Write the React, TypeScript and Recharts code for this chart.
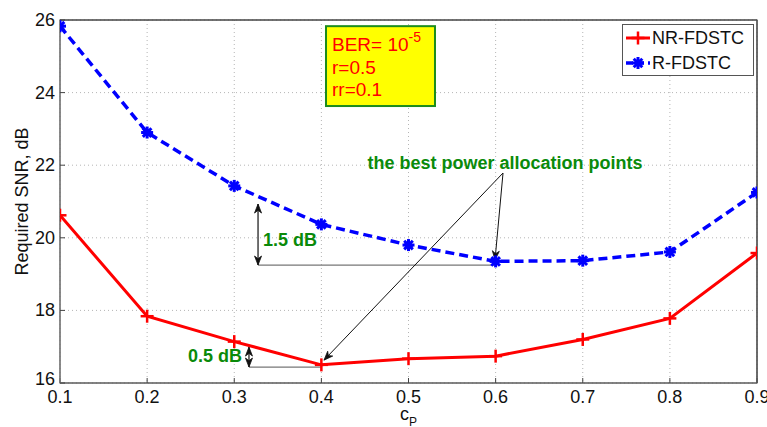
import React from 'react';
import {
  LineChart,
  Line,
  XAxis,
  YAxis,
  CartesianGrid,
  ReferenceLine,
  ReferenceArea,
  ReferenceDot,
  Legend,
} from 'recharts';

// ---- data ----
const cpValues = [0.1, 0.2, 0.3, 0.4, 0.5, 0.6, 0.7, 0.8, 0.9];
const nrFdstc = [20.62, 17.84, 17.14, 16.5, 16.67, 16.74, 17.2, 17.78, 19.58];
const rFdstc = [25.83, 22.9, 21.43, 20.37, 19.8, 19.35, 19.37, 19.61, 21.25];
const xTicks = [0.1, 0.2, 0.3, 0.4, 0.5, 0.6, 0.7, 0.8, 0.9];
const yTicks = [16, 18, 20, 22, 24, 26];
const seriesNames = ['NR-FDSTC', 'R-FDSTC'];

const data = cpValues.map((c, i) => ({ cp: c, nr: nrFdstc[i], r: rFdstc[i] }));

const FONT = '"Liberation Sans", Arial, Helvetica, sans-serif';
const RED = '#ff0000';
const BLUE = '#0000ff';
const GREEN = '#0a8a0a';

// annotation anchors (data coordinates)
const bestApex = { x: 0.6085, y: 21.785 };
const bestTipNr = { x: 0.403, y: 16.63 };
const bestTipR = { x: 0.5993, y: 19.39 };
const bestLabel = { x: 0.6108, y: 22.06 };
const gap15 = { x: 0.3273, yTop: 20.93, yBottom: 19.25, xEnd: 0.5993 };
const gap15Label = { x: 0.333, y: 19.94 };
const gap05 = { x: 0.3169, yTop: 16.99, yBottom: 16.44, xEnd: 0.3996 };
const gap05Label = { x: 0.3089, y: 16.74 };
const infoBox = { x1: 0.4053, x2: 0.5304, y1: 23.63, y2: 25.83 };

const PlusMarker = (props: any) => {
  const { cx, cy } = props;
  if (cx == null || cy == null) return null;
  const s = 6.5;
  return (
    <g>
      <line x1={cx - s} x2={cx + s} y1={cy} y2={cy} stroke={RED} strokeWidth={2.5} />
      <line x1={cx} x2={cx} y1={cy - s} y2={cy + s} stroke={RED} strokeWidth={2.5} />
    </g>
  );
};

const StarMarker = (props: any) => {
  const { cx, cy } = props;
  if (cx == null || cy == null) return null;
  const s = 6;
  const d = 4.3;
  return (
    <g stroke={BLUE} strokeWidth={3}>
      <line x1={cx - s} x2={cx + s} y1={cy} y2={cy} />
      <line x1={cx} x2={cx} y1={cy - s} y2={cy + s} />
      <line x1={cx - d} x2={cx + d} y1={cy - d} y2={cy + d} />
      <line x1={cx - d} x2={cx + d} y1={cy + d} y2={cy - d} />
      <circle cx={cx} cy={cy} r={3.5} fill={BLUE} stroke="none" />
    </g>
  );
};

const arrowHead = (x1: number, y1: number, x2: number, y2: number, color: string, len = 9, half = 3.5) => {
  const dx = x2 - x1;
  const dy = y2 - y1;
  const L = Math.sqrt(dx * dx + dy * dy) || 1;
  const ux = dx / L;
  const uy = dy / L;
  const bx = x2 - ux * len;
  const by = y2 - uy * len;
  const mx = x2 - ux * len * 0.7;
  const my = y2 - uy * len * 0.7;
  const px = -uy * half;
  const py = ux * half;
  return (
    <polygon
      points={`${x2},${y2} ${bx + px},${by + py} ${mx},${my} ${bx - px},${by - py}`}
      fill={color}
      stroke={color}
      strokeWidth={0.8}
    />
  );
};

const makeArrowShape = (heads: 'end' | 'both' | 'none', color: string, width: number) => (props: any) => {
  const { x1, y1, x2, y2 } = props;
  return (
    <g>
      <line x1={x1} y1={y1} x2={x2} y2={y2} stroke={color} strokeWidth={width} />
      {heads !== 'none' && arrowHead(x1, y1, x2, y2, color)}
      {heads === 'both' && arrowHead(x2, y2, x1, y1, color)}
    </g>
  );
};

const makeTextShape = (text: string, anchor: 'start' | 'middle' | 'end', size: number) => (props: any) => {
  const { cx, cy } = props;
  return (
    <text
      x={cx}
      y={cy}
      textAnchor={anchor}
      dominantBaseline="central"
      fontFamily={FONT}
      fontWeight="bold"
      fontSize={size}
      fill={GREEN}
    >
      {text}
    </text>
  );
};

const InfoBoxShape = (props: any) => {
  const { x, y, width, height } = props;
  return (
    <g fontFamily={FONT} fill={RED}>
      <rect x={x} y={y} width={width} height={height} fill="#ffff00" stroke="#1c8c1c" strokeWidth={2} />
      <text x={x + 6} y={y + 25} fontSize={19} fill={RED}>
        BER= 10
        <tspan dy={-9} fontSize={14}>-5</tspan>
      </text>
      <text x={x + 6} y={y + 48} fontSize={19} fill={RED}>r=0.5</text>
      <text x={x + 6} y={y + 70} fontSize={19} fill={RED}>rr=0.1</text>
    </g>
  );
};

const XTick = (props: any) => {
  const { x, y, payload } = props;
  return (
    <text x={x} y={y + 25} textAnchor="middle" fontFamily={FONT} fontSize={18} fill="#111">
      {Number(payload.value).toFixed(1)}
    </text>
  );
};

const YTick = (props: any) => {
  const { x, y, payload } = props;
  const shift = payload.value === 16 ? -4 : 0;
  return (
    <text
      x={x - 10}
      y={y + shift}
      textAnchor="end"
      dominantBaseline="central"
      fontFamily={FONT}
      fontSize={18}
      fill="#111"
    >
      {payload.value}
    </text>
  );
};

const XLabel = (props: any) => {
  const vb = props.viewBox || {};
  const cx = vb.x + vb.width / 2;
  return (
    <text x={cx} y={vb.y + 37} textAnchor="middle" fontFamily={FONT} fontSize={18} fill="#111">
      c
      <tspan dy={6} fontSize={12}>P</tspan>
    </text>
  );
};

const YLabel = (props: any) => {
  const vb = props.viewBox || {};
  const cx = vb.x + vb.width - 38;
  const cy = vb.y + vb.height / 2;
  return (
    <text
      x={cx}
      y={cy}
      transform={`rotate(-90 ${cx} ${cy})`}
      textAnchor="middle"
      dominantBaseline="central"
      fontFamily={FONT}
      fontSize={18}
      fill="#111"
    >
      Required SNR, dB
    </text>
  );
};

const LegendBox = () => (
  <svg width={132} height={52} style={{ display: 'block' }}>
    <rect x={0.5} y={0.5} width={131} height={51} fill="#ffffff" stroke="#555" strokeWidth={1} />
    <line x1={4} x2={28} y1={14} y2={14} stroke={RED} strokeWidth={3} />
    <PlusMarker cx={16} cy={14} />
    <text x={30} y={14} dominantBaseline="central" fontFamily={FONT} fontSize={18} fill="#111">
      {seriesNames[0]}
    </text>
    <line x1={4} x2={28} y1={39} y2={39} stroke={BLUE} strokeWidth={3.5} strokeDasharray="7 4" />
    <StarMarker cx={16} cy={39} />
    <text x={30} y={39} dominantBaseline="central" fontFamily={FONT} fontSize={18} fill="#111">
      {seriesNames[1]}
    </text>
  </svg>
);

export default function App() {
  return (
    <div style={{ position: 'absolute', left: 0, top: 0, width: 767, height: 427, background: '#fff' }}>
      <LineChart
        width={767}
        height={427}
        data={data}
        margin={{ top: 19, right: 9, bottom: 0, left: 0 }}
      >
        <CartesianGrid stroke="#b5b5b5" strokeDasharray="1 3" />
        <ReferenceArea
          x1={0.1}
          x2={0.9}
          y1={16}
          y2={26}
          fill="none"
          stroke="#444"
          strokeWidth={1.2}
          ifOverflow="visible"
        />
        <XAxis
          dataKey="cp"
          type="number"
          domain={[0.1, 0.9]}
          ticks={xTicks}
          height={44}
          tickSize={-5}
          tickMargin={0}
          tickLine={{ stroke: '#444' }}
          axisLine={{ stroke: '#666', strokeWidth: 1.2 }}
          tick={<XTick />}
          interval={0}
          allowDataOverflow
          label={<XLabel />}
        />
        <XAxis
          xAxisId="top"
          orientation="top"
          dataKey="cp"
          type="number"
          domain={[0.1, 0.9]}
          ticks={xTicks}
          height={1}
          tickSize={-5}
          tickLine={{ stroke: '#444' }}
          axisLine={{ stroke: '#444', strokeWidth: 1.2 }}
          tick={false}
          interval={0}
        />
        <YAxis
          type="number"
          domain={[16, 26]}
          ticks={yTicks}
          width={60}
          tickSize={-5}
          tickMargin={0}
          tickLine={{ stroke: '#444' }}
          axisLine={{ stroke: '#888', strokeWidth: 1.2 }}
          tick={<YTick />}
          interval={0}
          allowDataOverflow
          label={<YLabel />}
        />
        <YAxis
          yAxisId="right"
          orientation="right"
          type="number"
          domain={[16, 26]}
          ticks={yTicks}
          width={1}
          tickSize={-5}
          tickLine={{ stroke: '#444' }}
          axisLine={{ stroke: '#555', strokeWidth: 1.2 }}
          tick={false}
          interval={0}
        />

        <ReferenceArea
          x1={infoBox.x1}
          x2={infoBox.x2}
          y1={infoBox.y1}
          y2={infoBox.y2}
          shape={InfoBoxShape}
          ifOverflow="visible"
        />

        {/* dB gap guides */}
        <ReferenceLine
          segment={[{ x: gap15.x, y: gap15.yBottom }, { x: gap15.xEnd, y: gap15.yBottom }]}
          shape={makeArrowShape('none', '#777', 1.3)}
          ifOverflow="visible"
        />
        <ReferenceLine
          segment={[{ x: gap15.x, y: gap15.yBottom }, { x: gap15.x, y: gap15.yTop }]}
          shape={makeArrowShape('both', '#111', 1.2)}
          ifOverflow="visible"
        />
        <ReferenceLine
          segment={[{ x: gap05.x, y: gap05.yBottom }, { x: gap05.xEnd, y: gap05.yBottom }]}
          shape={makeArrowShape('none', '#777', 1.3)}
          ifOverflow="visible"
        />
        <ReferenceLine
          segment={[{ x: gap05.x, y: gap05.yBottom }, { x: gap05.x, y: gap05.yTop }]}
          shape={makeArrowShape('both', '#111', 1.2)}
          ifOverflow="visible"
        />

        <Line
          dataKey="r"
          name={seriesNames[1]}
          stroke={BLUE}
          strokeWidth={3.5}
          strokeDasharray="9 5"
          dot={<StarMarker />}
          activeDot={false}
          isAnimationActive={false}
        />
        <Line
          dataKey="nr"
          name={seriesNames[0]}
          stroke={RED}
          strokeWidth={3}
          dot={<PlusMarker />}
          activeDot={false}
          isAnimationActive={false}
        />

        {/* best power allocation arrows */}
        <ReferenceLine
          segment={[{ x: bestApex.x, y: bestApex.y }, { x: bestTipNr.x, y: bestTipNr.y }]}
          shape={makeArrowShape('end', '#111', 1)}
          ifOverflow="visible"
        />
        <ReferenceLine
          segment={[{ x: bestApex.x, y: bestApex.y }, { x: bestTipR.x, y: bestTipR.y }]}
          shape={makeArrowShape('end', '#111', 1)}
          ifOverflow="visible"
        />

        <ReferenceDot
          x={bestLabel.x}
          y={bestLabel.y}
          r={0}
          shape={makeTextShape('the best power allocation points', 'middle', 18)}
          ifOverflow="visible"
        />
        <ReferenceDot
          x={gap15Label.x}
          y={gap15Label.y}
          r={0}
          shape={makeTextShape('1.5 dB', 'start', 18)}
          ifOverflow="visible"
        />
        <ReferenceDot
          x={gap05Label.x}
          y={gap05Label.y}
          r={0}
          shape={makeTextShape('0.5 dB', 'end', 18)}
          ifOverflow="visible"
        />

        <Legend
          layout="vertical"
          align="center"
          verticalAlign="middle"
          content={<LegendBox />}
          wrapperStyle={{ position: 'absolute', left: 622, top: 24, width: 132, height: 52 }}
        />
      </LineChart>
    </div>
  );
}
